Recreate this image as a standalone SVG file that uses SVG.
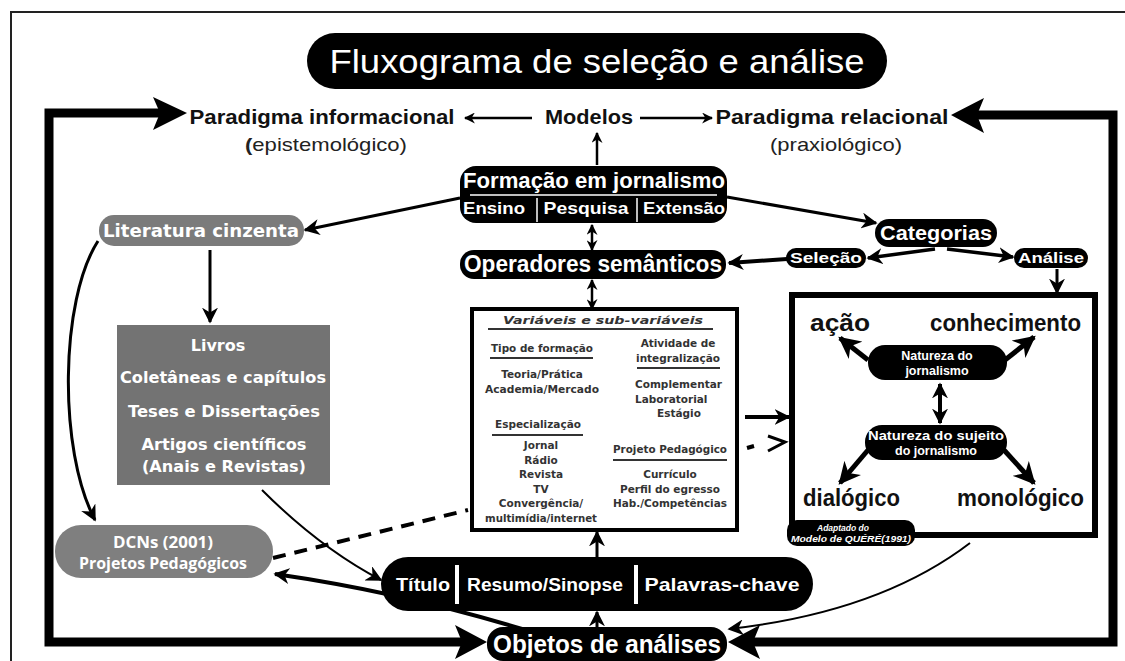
<svg xmlns="http://www.w3.org/2000/svg" width="1125" height="661" viewBox="0 0 1125 661">
<style>
.pill{fill:#000}
.gray{fill:#777}
.wb{fill:#fff;font-family:"Liberation Sans",Arial,sans-serif;font-weight:bold}
.wd{fill:#fff;font-family:"DejaVu Sans",Verdana,sans-serif;font-weight:bold}
.kb{fill:#111;font-family:"Liberation Sans",Arial,sans-serif;font-weight:bold}
.kn{fill:#222;font-family:"Liberation Sans",Arial,sans-serif}
.v{fill:#333;font-family:"DejaVu Sans",Verdana,sans-serif;font-weight:bold;font-size:10.5px;text-anchor:middle}
.ul{stroke:#333;stroke-width:2}
.ln{fill:none;stroke:#000}
</style>
<defs>
<marker id="aS" markerUnits="userSpaceOnUse" viewBox="0 0 10 10" refX="9" refY="5" markerWidth="11" markerHeight="11" orient="auto-start-reverse"><path d="M0,0 L10,5 L0,10 L3,5 z" fill="#000"/></marker>
<marker id="aM" markerUnits="userSpaceOnUse" viewBox="0 0 10 10" refX="9" refY="5" markerWidth="16" markerHeight="16" orient="auto-start-reverse"><path d="M0,0 L10,5 L0,10 L3,5 z" fill="#000"/></marker>
<marker id="aL" markerUnits="userSpaceOnUse" viewBox="0 0 10 10" refX="9" refY="5" markerWidth="22" markerHeight="22" orient="auto-start-reverse"><path d="M0,0 L10,5 L0,10 L3,5 z" fill="#000"/></marker>
</defs>
<rect width="1125" height="661" fill="#fff"/>
<path d="M11,661 V12 H1125" fill="none" stroke="#222" stroke-width="2"/>

<g id="title">
<rect x="307" y="33" width="580" height="56" rx="28" class="pill"/>
<text x="597" y="73" text-anchor="middle" fill="#fff" font-family="Liberation Sans,Arial,sans-serif" font-size="34" textLength="535" lengthAdjust="spacingAndGlyphs">Fluxograma de seleção e análise</text>
</g>

<g id="connectors">
<!-- big loop -->
<path d="M160,113 H49 V642 H462" class="ln" stroke-width="9" stroke-linejoin="miter"/>
<polygon points="187,113 153,97 160,113 153,130" fill="#000"/>
<polygon points="487,642 455,625 462,642 455,659" fill="#000"/>
<path d="M977,115 H1113 V642 H753" class="ln" stroke-width="9" stroke-linejoin="miter"/>
<polygon points="951,115 984,98 977,115 984,133" fill="#000"/>
<polygon points="728,642 760,625 753,642 760,659" fill="#000"/>
<!-- modelos -->
<line x1="532" y1="118" x2="465" y2="118" class="ln" stroke-width="2.5" marker-end="url(#aS)"/>
<line x1="640" y1="118" x2="712" y2="118" class="ln" stroke-width="2.5" marker-end="url(#aS)"/>
<line x1="597" y1="165" x2="597" y2="133" class="ln" stroke-width="2.5" marker-end="url(#aS)"/>
<!-- formacao -->
<line x1="460" y1="198" x2="305" y2="230" class="ln" stroke-width="3" marker-end="url(#aM)"/>
<line x1="727" y1="197" x2="876" y2="223" class="ln" stroke-width="3" marker-end="url(#aM)"/>
<line x1="592" y1="225" x2="592" y2="250" class="ln" stroke-width="2.5" marker-start="url(#aS)" marker-end="url(#aS)"/>
<line x1="592" y1="280" x2="592" y2="309" class="ln" stroke-width="2.5" marker-start="url(#aS)" marker-end="url(#aS)"/>
<!-- categorias -->
<line x1="935" y1="249" x2="868" y2="258" class="ln" stroke-width="3.5" marker-end="url(#aM)"/>
<line x1="947" y1="249" x2="1013" y2="257" class="ln" stroke-width="3.5" marker-end="url(#aM)"/>
<line x1="787" y1="259" x2="729" y2="263" class="ln" stroke-width="4" marker-end="url(#aM)"/>
<line x1="1057" y1="269" x2="1057" y2="293" class="ln" stroke-width="3" marker-end="url(#aM)"/>
<!-- literatura -->
<line x1="210" y1="250" x2="210" y2="322" class="ln" stroke-width="3" marker-end="url(#aM)"/>
<path d="M98,241 C60,300 58,450 95,520" class="ln" stroke-width="3" marker-end="url(#aM)"/>
<path d="M262,490 Q320,548 381,580" class="ln" stroke-width="2" marker-end="url(#aM)"/>
<line x1="273" y1="558" x2="468" y2="510" class="ln" stroke-width="4" stroke-dasharray="13 9"/>
<!-- variaveis to quere -->
<line x1="745" y1="417" x2="789" y2="417" class="ln" stroke-width="4" marker-end="url(#aM)"/>
<line x1="747" y1="448" x2="754" y2="446" class="ln" stroke-width="4"/>
<polyline points="768,436 785,442 768,451" class="ln" stroke-width="3"/>
<!-- bottom -->
<line x1="597" y1="557" x2="597" y2="532" class="ln" stroke-width="3" marker-end="url(#aM)"/>
<line x1="597" y1="627" x2="597" y2="612" class="ln" stroke-width="3" marker-end="url(#aM)"/>
<path d="M522,629 Q400,592 275,574" class="ln" stroke-width="4" marker-end="url(#aM)"/>
<path d="M970,543 Q880,612 729,629" class="ln" stroke-width="2" marker-end="url(#aM)"/>
<!-- quere internal -->
<line x1="868" y1="360" x2="840" y2="338" class="ln" stroke-width="5" marker-end="url(#aL)"/>
<line x1="1005" y1="360" x2="1034" y2="337" class="ln" stroke-width="5" marker-end="url(#aL)"/>
<line x1="940" y1="384" x2="940" y2="423" class="ln" stroke-width="4" marker-start="url(#aM)" marker-end="url(#aM)"/>
<line x1="868" y1="450" x2="840" y2="483" class="ln" stroke-width="5" marker-end="url(#aL)"/>
<line x1="1004" y1="450" x2="1034" y2="483" class="ln" stroke-width="5" marker-end="url(#aL)"/>
</g>

<g id="paradigma-informacional">
<text x="322" y="124" text-anchor="middle" class="kb" font-size="21" textLength="265" lengthAdjust="spacingAndGlyphs">Paradigma informacional</text>
<text x="326" y="151" text-anchor="middle" class="kn" font-size="19" textLength="162" lengthAdjust="spacingAndGlyphs"><tspan font-weight="bold">(</tspan>epistemológico)</text>
</g>
<g id="modelos">
<text x="589" y="124" text-anchor="middle" class="kb" font-size="21" textLength="88" lengthAdjust="spacingAndGlyphs">Modelos</text>
</g>
<g id="paradigma-relacional">
<text x="832" y="124" text-anchor="middle" class="kb" font-size="21" textLength="233" lengthAdjust="spacingAndGlyphs">Paradigma relacional</text>
<text x="836" y="151" text-anchor="middle" class="kn" font-size="19" textLength="132" lengthAdjust="spacingAndGlyphs">(praxiológico)</text>
</g>

<g id="formacao">
<rect x="460" y="166" width="267" height="57" rx="16" class="pill"/>
<text x="594" y="188" text-anchor="middle" class="wb" font-size="22" textLength="262" lengthAdjust="spacingAndGlyphs">Formação em jornalismo</text>
<line x1="470" y1="195" x2="717" y2="195" stroke="#fff" stroke-width="1.5"/>
<line x1="537" y1="198" x2="537" y2="222" stroke="#fff" stroke-width="1.5"/>
<line x1="637" y1="198" x2="637" y2="222" stroke="#fff" stroke-width="1.5"/>
<text x="494" y="214" text-anchor="middle" class="wb" font-size="17" textLength="62" lengthAdjust="spacingAndGlyphs">Ensino</text>
<text x="586" y="214" text-anchor="middle" class="wb" font-size="17" textLength="85" lengthAdjust="spacingAndGlyphs">Pesquisa</text>
<text x="684" y="214" text-anchor="middle" class="wb" font-size="17" textLength="82" lengthAdjust="spacingAndGlyphs">Extensão</text>
</g>

<g id="operadores">
<rect x="460" y="250" width="266" height="29" rx="14" class="pill"/>
<text x="593" y="272" text-anchor="middle" class="wb" font-size="23" textLength="258" lengthAdjust="spacingAndGlyphs">Operadores semânticos</text>
</g>

<g id="categorias">
<rect x="875" y="219" width="122" height="28" rx="14" class="pill"/>
<text x="936" y="240" text-anchor="middle" class="wb" font-size="20" textLength="112" lengthAdjust="spacingAndGlyphs">Categorias</text>
</g>
<g id="selecao">
<rect x="786" y="248" width="80" height="20" rx="10" class="pill"/>
<text x="826" y="263" text-anchor="middle" class="wb" font-size="15" textLength="72" lengthAdjust="spacingAndGlyphs">Seleção</text>
</g>
<g id="analise">
<rect x="1014" y="248" width="74" height="20" rx="10" class="pill"/>
<text x="1051" y="263" text-anchor="middle" class="wb" font-size="15" textLength="66" lengthAdjust="spacingAndGlyphs">Análise</text>
</g>

<g id="literatura">
<rect x="99" y="215" width="205" height="31" rx="15" fill="#7b7b7b"/>
<text x="201" y="237" text-anchor="middle" class="wd" font-size="18" textLength="196" lengthAdjust="spacingAndGlyphs">Literatura cinzenta</text>
</g>

<g id="fontes">
<rect x="117" y="325" width="213" height="160" fill="#737373"/>
<text x="218" y="351" text-anchor="middle" class="wd" font-size="16">Livros</text>
<text x="223" y="383" text-anchor="middle" class="wd" font-size="16" textLength="206" lengthAdjust="spacingAndGlyphs">Coletâneas e capítulos</text>
<text x="224" y="417" text-anchor="middle" class="wd" font-size="16" textLength="192" lengthAdjust="spacingAndGlyphs">Teses e Dissertações</text>
<text x="224" y="450" text-anchor="middle" class="wd" font-size="16" textLength="165" lengthAdjust="spacingAndGlyphs">Artigos científicos</text>
<text x="224" y="472" text-anchor="middle" class="wd" font-size="16" textLength="164" lengthAdjust="spacingAndGlyphs">(Anais e Revistas)</text>
</g>

<g id="dcns">
<rect x="55" y="525" width="218" height="53" rx="26" fill="#7f7f7f"/>
<text x="163" y="548" text-anchor="middle" fill="#fff" font-family="Open Sans,sans-serif" font-weight="bold" font-size="16" textLength="100" lengthAdjust="spacingAndGlyphs">DCNs (2001)</text>
<text x="163" y="569" text-anchor="middle" fill="#fff" font-family="Open Sans,sans-serif" font-weight="bold" font-size="16" textLength="168" lengthAdjust="spacingAndGlyphs">Projetos Pedagógicos</text>
</g>

<g id="variaveis">
<rect x="472" y="309" width="265" height="221" fill="#fff" stroke="#000" stroke-width="4"/>
<text x="603" y="324" class="v" font-style="italic" font-size="11.5" textLength="200" lengthAdjust="spacingAndGlyphs">Variáveis e sub-variáveis</text>
<line x1="488" y1="329" x2="713" y2="329" class="ul"/>
<text x="542" y="352" class="v" textLength="102" lengthAdjust="spacingAndGlyphs">Tipo de formação</text>
<line x1="490" y1="358" x2="593" y2="358" class="ul"/>
<text x="542" y="378" class="v">Teoria/Prática</text>
<text x="542" y="393" class="v" textLength="114" lengthAdjust="spacingAndGlyphs">Academia/Mercado</text>
<text x="538" y="428" class="v">Especialização</text>
<line x1="492" y1="435" x2="583" y2="435" class="ul"/>
<text x="541" y="449" class="v">Jornal</text>
<text x="541" y="464" class="v">Rádio</text>
<text x="541" y="478" class="v">Revista</text>
<text x="541" y="493" class="v">TV</text>
<text x="541" y="507" class="v">Convergência/</text>
<text x="541" y="522" class="v" textLength="112" lengthAdjust="spacingAndGlyphs">multimídia/internet</text>
<text x="678" y="347" class="v">Atividade de</text>
<text x="678" y="362" class="v">integralização</text>
<line x1="637" y1="368" x2="720" y2="368" class="ul"/>
<text x="635" y="388" class="v" text-anchor="start" style="text-anchor:start">Complementar</text>
<text x="635" y="403" class="v" style="text-anchor:start">Laboratorial</text>
<text x="657" y="417" class="v" style="text-anchor:start">Estágio</text>
<text x="670" y="453" class="v" textLength="114" lengthAdjust="spacingAndGlyphs">Projeto Pedagógico</text>
<line x1="613" y1="460" x2="727" y2="460" class="ul"/>
<text x="670" y="478" class="v">Currículo</text>
<text x="670" y="493" class="v">Perfil do egresso</text>
<text x="670" y="507" class="v" textLength="114" lengthAdjust="spacingAndGlyphs">Hab./Competências</text>
</g>

<g id="quere">
<rect x="792" y="295" width="303" height="240" fill="none" stroke="#000" stroke-width="6"/>
<text x="810" y="331" class="kb" font-size="23" textLength="60" lengthAdjust="spacingAndGlyphs">ação</text>
<text x="930" y="331" class="kb" font-size="23" textLength="151" lengthAdjust="spacingAndGlyphs">conhecimento</text>
<rect x="868" y="345" width="139" height="35" rx="17" class="pill"/>
<text x="937" y="360" text-anchor="middle" class="wb" font-size="12.5">Natureza do</text>
<text x="937" y="375" text-anchor="middle" class="wb" font-size="12.5">jornalismo</text>
<rect x="865" y="425" width="142" height="35" rx="17" class="pill"/>
<text x="936" y="440" text-anchor="middle" class="wb" font-size="12.5" textLength="136" lengthAdjust="spacingAndGlyphs">Natureza do sujeito</text>
<text x="936" y="455" text-anchor="middle" class="wb" font-size="12.5">do jornalismo</text>
<text x="803" y="506" class="kb" font-size="23" textLength="97" lengthAdjust="spacingAndGlyphs">dialógico</text>
<text x="957" y="506" class="kb" font-size="23" textLength="127" lengthAdjust="spacingAndGlyphs">monológico</text>
<rect x="787" y="520" width="128" height="26" rx="10" class="pill"/>
<text x="843" y="531" text-anchor="middle" class="wb" font-weight="normal" font-style="italic" font-size="8.5">Adaptado do</text>
<text x="851" y="542" text-anchor="middle" class="wb" font-weight="normal" font-style="italic" font-size="8.5" textLength="120" lengthAdjust="spacingAndGlyphs">Modelo de QUÉRÉ(1991)</text>
</g>

<g id="palavras">
<rect x="381" y="557" width="432" height="54" rx="27" class="pill"/>
<line x1="457" y1="565" x2="457" y2="604" stroke="#fff" stroke-width="4"/>
<line x1="636" y1="565" x2="636" y2="604" stroke="#fff" stroke-width="4"/>
<text x="423" y="591" text-anchor="middle" class="wb" font-size="19" textLength="54" lengthAdjust="spacingAndGlyphs">Título</text>
<text x="545" y="591" text-anchor="middle" class="wb" font-size="19" textLength="156" lengthAdjust="spacingAndGlyphs">Resumo/Sinopse</text>
<text x="722" y="591" text-anchor="middle" class="wb" font-size="19" textLength="155" lengthAdjust="spacingAndGlyphs">Palavras-chave</text>
</g>

<g id="objetos">
<rect x="487" y="627" width="240" height="34" rx="16" class="pill"/>
<text x="607" y="653" text-anchor="middle" class="wb" font-size="25" textLength="228" lengthAdjust="spacingAndGlyphs">Objetos de análises</text>
</g>
</svg>
